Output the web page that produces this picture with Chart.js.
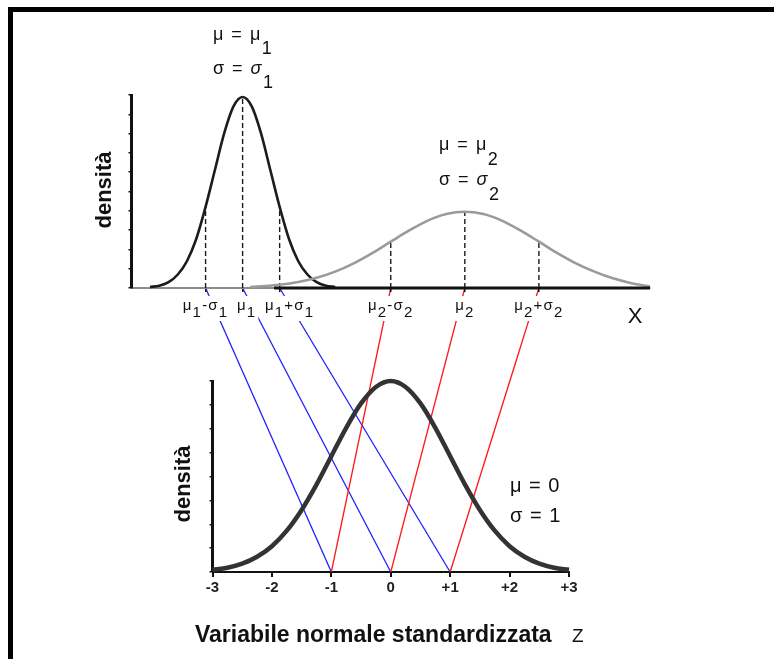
<!DOCTYPE html>
<html>
<head>
<meta charset="utf-8">
<title>Standardizzazione della normale</title>
<script src="https://cdn.jsdelivr.net/npm/chart.js@4.4.0/dist/chart.umd.min.js"></script>
<style>
    html, body { margin: 0; padding: 0; background: #fff; overflow: hidden; }
    #page { position: relative; width: 774px; height: 659px; overflow: hidden; }
    #frame { position: absolute; left: 8px; top: 7px; width: 800px; height: 700px;
             border-top: 5px solid #000; border-left: 5px solid #000; }
    canvas { position: absolute; left: 0; top: 0; }
    #zChart { z-index: 1; }
    #xChart { z-index: 2; }
</style>
</head>
<body>
<div id="page">
    <div id="frame"></div>
    <canvas id="zChart" width="774" height="659"></canvas>
    <canvas id="xChart" width="774" height="659"></canvas>
</div>
<script>
"use strict";

// ---- top panel: X with two normal densities ----
var xMarks = [2, 3, 4, 7, 9, 11];
// '_' puts the next character in subscript
var xMarkText = ['μ_1-σ_1', 'μ_1', 'μ_1+σ_1', 'μ_2-σ_2', 'μ_2', 'μ_2+σ_2'];

var curve1X = [0.5, 0.75, 1, 1.25, 1.5, 1.75, 2, 2.25, 2.5, 2.75, 3, 3.25, 3.5, 3.75, 4, 4.25, 4.5, 4.75, 5, 5.25, 5.5];
var curve1Y = [0.05, 0.12, 0.3, 0.7, 1.4, 2.55, 4.2, 6.1, 8.0, 9.4, 9.9, 9.4, 8.0, 6.1, 4.2, 2.55, 1.4, 0.7, 0.3, 0.12, 0.05];

var curve2X = [3.2, 3.5, 4, 4.5, 5, 5.5, 6, 6.5, 7, 7.5, 8, 8.5, 9, 9.5, 10, 10.5, 11, 11.5, 12, 12.5, 13, 13.5, 14];
var curve2Y = [0.05, 0.09, 0.17, 0.31, 0.53, 0.85, 1.28, 1.81, 2.4, 2.98, 3.49, 3.83, 3.95, 3.83, 3.49, 2.98, 2.4, 1.81, 1.28, 0.85, 0.5, 0.25, 0.08];

// height of each dashed guide (where it meets its curve)
var guideTop = [4.2, 9.9, 4.2, 2.4, 3.95, 2.4];

// ---- bottom panel: standard normal Z ----
var zTicks = [-3, -2, -1, 0, 1, 2, 3];
var zCurveX = [-3, -2.75, -2.5, -2.25, -2, -1.75, -1.5, -1.25, -1, -0.75, -0.5, -0.25, 0, 0.25, 0.5, 0.75, 1, 1.25, 1.5, 1.75, 2, 2.25, 2.5, 2.75, 3];
var zCurveY = [0.09, 0.18, 0.35, 0.64, 1.08, 1.73, 2.6, 3.66, 4.85, 6.04, 7.06, 7.75, 8.0, 7.75, 7.06, 6.04, 4.85, 3.66, 2.6, 1.73, 1.08, 0.64, 0.35, 0.18, 0.09];

// every X mark lands on this z value
var zTargets = [-1, 0, 1, -1, 0, 1];

var FONT = '"Liberation Sans", Arial, sans-serif';

function toPoints(xs, ys) {
    return xs.map(function (x, i) { return { x: x, y: ys[i] }; });
}

// text made of pieces: [text, dy, italic]
function drawPieces(ctx, pieces, x, y, size, align, spacing) {
    ctx.save();
    ctx.textAlign = 'left';
    ctx.textBaseline = 'alphabetic';
    ctx.letterSpacing = (spacing || 0) + 'px';
    var widths = pieces.map(function (p) {
        ctx.font = (p[2] ? 'italic ' : '') + size + 'px ' + FONT;
        return ctx.measureText(p[0]).width;
    });
    var total = widths.reduce(function (a, b) { return a + b; }, 0);
    var left = align === 'center' ? x - total / 2 : x;
    var cx = left;
    pieces.forEach(function (p, i) {
        ctx.font = (p[2] ? 'italic ' : '') + size + 'px ' + FONT;
        ctx.fillText(p[0], cx, y + p[1]);
        cx += widths[i];
    });
    ctx.restore();
    return { left: left, right: left + total };
}

function parseSub(str, drop) {
    var out = [];
    for (var i = 0; i < str.length; i++) {
        if (str[i] === '_') {
            out.push([str[i + 1], drop]);
            i++;
        } else if (out.length && out[out.length - 1][1] === 0) {
            out[out.length - 1][0] += str[i];
        } else {
            out.push([str[i], 0]);
        }
    }
    return out;
}

function rotatedText(ctx, text, x, y, font) {
    ctx.save();
    ctx.translate(x, y);
    ctx.rotate(-Math.PI / 2);
    ctx.font = font;
    ctx.fillStyle = '#111';
    ctx.textAlign = 'center';
    ctx.textBaseline = 'middle';
    ctx.fillText(text, 0, 0);
    ctx.restore();
}

// labels of the top panel
var xLabels = {
    id: 'xLabels',
    afterDraw: function (chart) {
        var ctx = chart.ctx;
        var sx = chart.scales.x;
        var shift = [0, 4, 10, 0, 0, 0];
        ctx.fillStyle = '#111';

        xMarkText.forEach(function (t, i) {
            var px = sx.getPixelForValue(xMarks[i]) + shift[i];
            var pieces = parseSub(t, 7);
            // measure first, blank the area, then write
            ctx.save();
            ctx.globalAlpha = 0;
            var box = drawPieces(ctx, pieces, px, 310, 15, 'center', 1.2);
            ctx.restore();
            ctx.fillStyle = '#fff';
            ctx.fillRect(box.left - 2, 296, box.right - box.left + 4, 25);
            ctx.fillStyle = '#111';
            drawPieces(ctx, pieces, px, 310, 15, 'center', 1.2);
        });

        drawPieces(ctx, [['μ = μ', 0], ['1', 14]], 213, 40, 18, 'left', 1.5);
        drawPieces(ctx, [['σ = ', 0], ['σ', 0, true], ['1', 14]], 213, 74, 18, 'left', 1.5);
        drawPieces(ctx, [['μ = μ', 0], ['2', 15]], 439, 150, 18, 'left', 1.5);
        drawPieces(ctx, [['σ = ', 0], ['σ', 0, true], ['2', 15]], 439, 185, 18, 'left', 1.5);

        ctx.font = '22px ' + FONT;
        ctx.textAlign = 'center';
        ctx.fillText('X', 635, 323);

        rotatedText(ctx, 'densità', 105, 190, 'bold 22px ' + FONT);
    }
};

var guides = xMarks.map(function (m, i) {
    return {
        data: [{ x: m, y: 0 }, { x: m, y: guideTop[i] }],
        showLine: true,
        borderColor: '#1a1a1a',
        borderWidth: 1.4,
        borderDash: [5, 3],
        pointRadius: 0
    };
});

var xChart = new Chart(document.getElementById('xChart'), {
    type: 'scatter',
    data: {
        datasets: [
            {
                // dark part of the X axis
                data: [{ x: 3.85, y: 0 }, { x: 14, y: 0 }],
                showLine: true, borderColor: '#111', borderWidth: 3, pointRadius: 0, clip: false
            },
            {
                data: toPoints(curve2X, curve2Y),
                showLine: true, borderColor: '#9a9a9a', borderWidth: 2.6, pointRadius: 0,
                cubicInterpolationMode: 'monotone', clip: false
            },
            {
                data: toPoints(curve1X, curve1Y),
                showLine: true, borderColor: '#1c1c1c', borderWidth: 2.6, pointRadius: 0,
                cubicInterpolationMode: 'monotone', clip: false
            }
        ].concat(guides)
    },
    options: {
        responsive: false,
        animation: false,
        events: [],
        layout: { padding: { left: 121.5, right: 124, top: 95, bottom: 361 } },
        plugins: { legend: { display: false }, tooltip: { enabled: false } },
        scales: {
            x: {
                type: 'linear', min: 0, max: 14,
                afterFit: function (s) { s.height = 10; },
                afterBuildTicks: function (s) { s.ticks = xMarks.map(function (v) { return { value: v }; }); },
                border: { color: '#8c8c8c', width: 2 },
                grid: { drawOnChartArea: false, tickLength: 4, color: '#111', lineWidth: 1.5 },
                ticks: { display: false }
            },
            y: {
                min: 0, max: 10,
                afterFit: function (s) { s.width = 10; },
                border: { color: '#111', width: 3 },
                grid: { drawOnChartArea: false, tickLength: 3, color: '#111', lineWidth: 1.5 },
                ticks: { stepSize: 1, display: false }
            }
        }
    },
    plugins: [xLabels]
});

// blue/red lines from the X marks down to their z values
var links = {
    id: 'links',
    beforeDatasetsDraw: function (chart) {
        var ctx = chart.ctx;
        var topX = xChart.scales.x, topY = xChart.scales.y;
        var zx = chart.scales.x, zy = chart.scales.y;
        ctx.save();
        ctx.lineWidth = 1.3;
        xMarks.forEach(function (m, i) {
            ctx.strokeStyle = i < 3 ? '#2020ff' : '#ff1a1a';
            ctx.beginPath();
            ctx.moveTo(topX.getPixelForValue(m), topY.getPixelForValue(0));
            ctx.lineTo(zx.getPixelForValue(zTargets[i]), zy.getPixelForValue(0));
            ctx.stroke();
        });
        ctx.restore();
    },
    afterDraw: function (chart) {
        var ctx = chart.ctx;
        ctx.fillStyle = '#111';
        rotatedText(ctx, 'densità', 184, 484, 'bold 22px ' + FONT);
        drawPieces(ctx, [['μ = 0', 0]], 510, 492, 20, 'left', 1);
        drawPieces(ctx, [['σ = 1', 0]], 510, 522, 20, 'left', 1);

        ctx.font = 'bold 23px ' + FONT;
        ctx.textAlign = 'left';
        ctx.fillText('Variabile normale standardizzata', 195, 642);
        ctx.font = '19px ' + FONT;
        ctx.fillText('Z', 572, 642);
    }
};

var zChart = new Chart(document.getElementById('zChart'), {
    type: 'scatter',
    data: {
        datasets: [{
            data: toPoints(zCurveX, zCurveY),
            showLine: true, borderColor: '#333', borderWidth: 4.5, pointRadius: 0,
            cubicInterpolationMode: 'monotone', clip: false
        }]
    },
    options: {
        responsive: false,
        animation: false,
        events: [],
        layout: { padding: { left: 202.5, right: 205, top: 381, bottom: 57 } },
        plugins: { legend: { display: false }, tooltip: { enabled: false } },
        scales: {
            x: {
                type: 'linear', min: -3, max: 3,
                // keep the label band tall enough: labels are clipped to it
                afterFit: function (s) { s.height = 30; },
                afterBuildTicks: function (s) { s.ticks = zTicks.map(function (v) { return { value: v }; }); },
                border: { color: '#111', width: 2 },
                grid: { drawOnChartArea: false, tickLength: 5, color: '#111', lineWidth: 2 },
                ticks: {
                    padding: 2,
                    color: '#222',
                    autoSkip: false,
                    maxRotation: 0,
                    font: { family: FONT, size: 15, weight: 'bold' },
                    callback: function (v) { return v > 0 ? '+' + v : String(v); }
                }
            },
            y: {
                min: 0, max: 8,
                afterFit: function (s) { s.width = 10; },
                border: { color: '#111', width: 3 },
                grid: { drawOnChartArea: false, tickLength: 3, color: '#111', lineWidth: 1.5 },
                ticks: { stepSize: 1, display: false }
            }
        }
    },
    plugins: [links]
});
</script>
</body>
</html>
